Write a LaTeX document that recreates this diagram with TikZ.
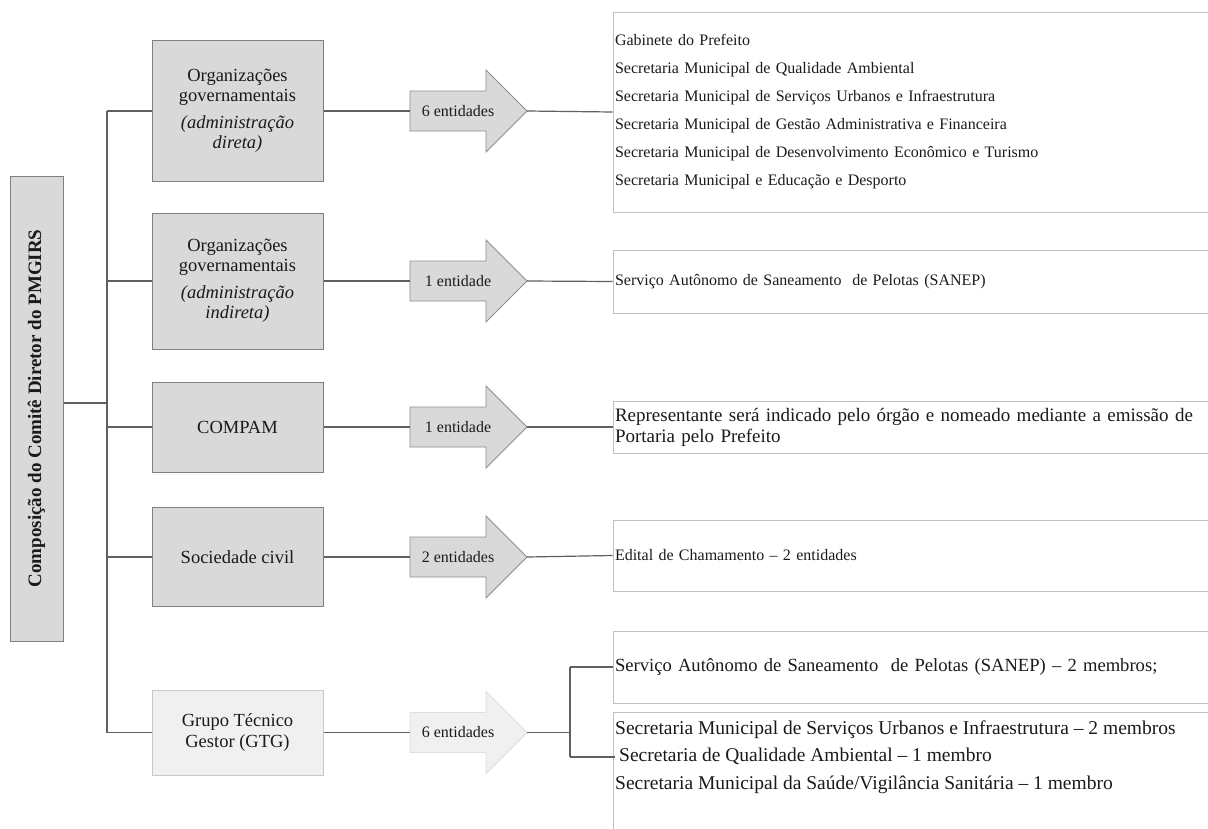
\documentclass[tikz,border=0pt]{standalone}
\usepackage{fontspec}
\setmainfont{Liberation Serif}
\usetikzlibrary{calc}
\definecolor{boxfill}{HTML}{D9D9D9}
\definecolor{boxline}{HTML}{808080}
\definecolor{panelline}{HTML}{C0C0C0}
\definecolor{gtgfill}{HTML}{F0F0F0}
\definecolor{gtgline}{HTML}{C8C8C8}
\definecolor{connline}{HTML}{606060}
\definecolor{txt}{HTML}{1A1A1A}
\newcommand{\entarrow}[4]{%
  \draw[#3] (410,{#2-20}) -- (486,{#2-20}) -- (486,{#2-41}) -- (527,#2) -- (486,{#2+41}) -- (486,{#2+20}) -- (410,{#2+20}) -- cycle;
  \coordinate (#1tail) at (410,#2);
  \coordinate (#1tip) at (527,#2);
  \node[arrlbl] (#1lbl) at (458,#2) {#4};}
\begin{document}
\begin{tikzpicture}[x=1pt,y=-1pt,
  rootbox/.style={draw=boxline, fill=boxfill, line width=1pt, minimum width=53pt, minimum height=465pt, inner sep=0pt, text=txt},
  catbox/.style={draw=boxline, fill=boxfill, line width=1pt, minimum width=171pt, inner sep=2pt, align=center, text=txt, font=\fontsize{18.5}{20}\selectfont},
  gtgbox/.style={catbox, draw=gtgline, fill=gtgfill},
  panel/.style={draw=panelline, line width=0.9pt, minimum width=602pt, text width=598pt, inner xsep=2pt, inner ysep=0pt, align=left, text=txt, font=\fontsize{16}{28}\selectfont},
  plaintext/.style={inner sep=0pt, align=left, text=txt, font=\fontsize{16}{28}\selectfont},
  arrshape/.style={draw=boxline!90, fill=boxfill, line width=0.9pt, line join=miter},
  gtgarr/.style={draw=gtgline!60, fill=gtgfill, line width=0.9pt, line join=miter},
  arrlbl/.style={inner sep=0pt, text=txt, font=\fontsize{16}{18}\selectfont},
  conn/.style={draw=connline, line width=1.2pt}]
\useasboundingbox (0,0) rectangle (1208,828);

% root
\node[rootbox] (root) at (36.5,408.5) {\rotatebox{90}{\fontsize{19}{22}\selectfont\bfseries Composição do Comitê Diretor do PMGIRS}};

% category boxes
\node[catbox, minimum height=141pt] (b1) at (237.5,111) {Organizações\\governamentais\\[7pt]\fontsize{18.5}{18}\selectfont\itshape (administração\\\itshape direta)};
\node[catbox, minimum height=136pt] (b2) at (237.5,281) {Organizações\\governamentais\\[7pt]\fontsize{18.5}{18}\selectfont\itshape (administração\\\itshape indireta)};
\node[catbox, minimum height=90pt] (b3) at (237.5,427) {COMPAM};
\node[catbox, minimum height=99pt] (b4) at (237.5,557) {Sociedade civil};
\node[gtgbox, minimum height=85pt, font=\fontsize{18.5}{21}\selectfont] (b5) at (237.5,732.5) {Grupo Técnico\\Gestor (GTG)};

% spine
\coordinate (hub) at (107,403);
\draw[conn] (root.east |- hub) -- (hub);
\draw[conn] (b1.west -| hub) -- (b5.west -| hub);
\foreach \b in {b1,b2,b3,b4,b5} {\draw[conn] (\b.west -| hub) -- (\b.west);}

% arrows
\entarrow{a1}{111}{arrshape}{6 entidades}
\entarrow{a2}{281}{arrshape}{1 entidade}
\entarrow{a3}{427}{arrshape}{1 entidade}
\entarrow{a4}{557}{arrshape}{2 entidades}
\entarrow{a5}{732.5}{gtgarr}{6 entidades}

\foreach \i in {1,...,5} {\draw[conn] (b\i.east) -- (a\i tail);}

% right panels
\node[panel, minimum height=200pt] (r1) at (914,112) {Gabinete do Prefeito\\Secretaria Municipal de Qualidade Ambiental\\Secretaria Municipal de Serviços Urbanos e Infraestrutura\\Secretaria Municipal de Gestão Administrativa e Financeira\\Secretaria Municipal de Desenvolvimento Econômico e Turismo\\Secretaria Municipal e Educação e Desporto};
\node[panel, minimum height=63pt] (r2) at (914,281.5) {Serviço Autônomo de Saneamento\ \ de Pelotas (SANEP)};
\node[panel, minimum height=52pt, font=\fontsize{19}{21}\selectfont] (r3) at (914,427) {Representante será indicado pelo órgão e nomeado mediante a emissão de\\Portaria pelo Prefeito};
\node[panel, minimum height=71pt] (r4) at (914,555.5) {Edital de Chamamento – 2 entidades};
\node[panel, minimum height=72pt, font=\fontsize{18.6}{28}\selectfont] (r5) at (914,667) {Serviço Autônomo de Saneamento\ \ de Pelotas (SANEP) – 2 membros;};
\node[panel, minimum height=133pt] (r6) at (914,778.5) {};
\node[plaintext, anchor=west, font=\fontsize{19.5}{27.5}\selectfont] (r6t) at (615,757) {Secretaria Municipal de Serviços Urbanos e Infraestrutura – 2 membros\\\hspace{4pt}Secretaria de Qualidade Ambiental – 1 membro\\Secretaria Municipal da Saúde/Vigilância Sanitária – 1 membro};

% arrow to panels
\foreach \i in {1,...,4} {\draw[conn] (a\i tip) -- (r\i.west);}
\coordinate (gj) at (570,732.5);
\draw[conn, line width=1.5pt] (a5tip) -- (gj);
\draw[conn] (r5.west -| gj) -- (r6t.west -| gj);
\draw[conn] (r5.west -| gj) -- (r5.west);
\draw[conn] (r6t.west -| gj) -- (r6t.west);
\end{tikzpicture}
\end{document}
